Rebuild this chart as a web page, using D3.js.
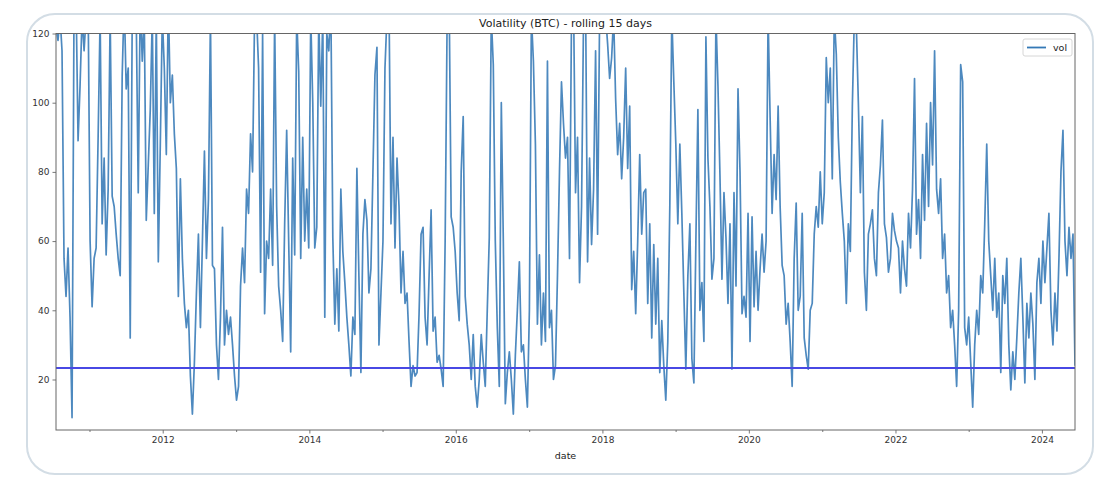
<!DOCTYPE html>
<html>
<head>
<meta charset="utf-8">
<script src="https://cdn.jsdelivr.net/npm/d3@7"></script>
<style>
  html, body { margin: 0; padding: 0; background: #fff; }
  svg { display: block; font-family: "DejaVu Sans", sans-serif; }
</style>
</head>
<body>
<svg id="chart" width="1117" height="486"></svg>
<script>
// ---------------- data ----------------
const title = "Volatility (BTC) - rolling 15 days";
const seriesName = "vol";
const xLabel = "date";
const startDate = "2010-07-18";
const stepDays = 10;
const vol = [
  122,118,125,115,55,44,58,38,9,130,
  130,89,105,125,115,125,130,60,41,55,
  58,90,125,65,84,56,75,125,73,70,
  62,55,50,108,130,104,110,32,125,130,
  125,74,130,112,125,66,82,98,125,68,
  125,54,88,125,110,85,130,100,108,91,
  81,44,78,55,42,35,40,21,10,25,
  45,62,35,60,86,55,72,125,53,52,
  30,20,38,64,30,40,33,38,30,21,
  14,18,47,58,48,75,68,91,80,125,
  125,110,51,120,39,60,55,75,53,125,
  70,47,40,31,65,92,60,28,84,56,
  125,109,55,90,60,75,58,125,100,58,
  64,125,99,125,38,120,115,130,61,36,
  52,34,75,57,48,38,30,21,38,33,
  81,50,22,62,72,66,45,52,80,108,
  116,30,45,60,110,125,130,65,90,58,
  84,70,45,57,42,45,31,18,24,21,
  22,39,62,64,38,30,50,69,34,38,
  25,27,23,18,60,125,130,67,64,57,
  45,37,80,96,44,36,30,20,33,18,
  12,20,33,25,18,40,61,125,111,60,
  35,18,100,60,13,22,28,20,10,27,
  40,54,28,30,20,12,40,125,112,88,
  36,56,30,45,31,112,35,40,20,24,
  50,80,106,94,84,90,55,125,130,74,
  90,48,70,125,130,54,84,59,75,115,
  62,125,130,122,125,117,107,113,125,101,
  85,94,78,90,110,81,99,46,57,39,
  60,85,62,74,75,42,65,32,59,36,
  55,22,37,24,14,31,70,125,106,88,
  65,88,68,45,23,50,65,26,19,60,
  98,40,48,31,119,84,70,49,55,125,
  105,79,49,74,61,42,65,23,74,47,
  104,80,39,44,38,68,31,67,41,57,
  40,52,62,51,60,125,96,68,85,72,
  99,70,53,50,36,42,31,18,55,71,
  40,44,68,32,27,23,40,42,62,70,
  64,80,65,74,113,100,110,78,125,114,
  90,77,68,60,42,65,57,99,125,122,
  100,74,96,51,40,62,65,69,55,50,
  74,82,95,65,61,51,55,68,63,60,
  58,45,60,52,47,68,58,75,107,62,
  72,55,85,66,94,70,100,82,115,75,
  68,78,55,62,45,50,35,40,30,18,
  40,111,106,35,30,38,25,12,30,40,
  33,50,45,65,88,60,50,40,55,38,
  45,22,50,42,55,30,17,28,20,32,
  45,55,38,19,42,32,45,36,20,48,
  55,42,60,48,58,68,40,30,45,34,
  55,80,92,60,50,64,55,62,24
];
const threshold = 23.3;
const yTicks = [20, 40, 60, 80, 100, 120];
const xMajorYears = [2012, 2014, 2016, 2018, 2020, 2022, 2024];
const xMinorYears = [2011, 2013, 2015, 2017, 2019, 2021, 2023];
const yDomain = [5.4, 120];

// ---------------- layout ----------------
const svg = d3.select("#chart");
const L = 56, R = 1075, T = 33.5, B = 430;

const t0 = d3.timeParse("%Y-%m-%d")(startDate);
const data = vol.map((v, i) => ({ date: d3.timeDay.offset(t0, i * stepDays), v }));

const x = d3.scaleTime().domain(d3.extent(data, d => d.date)).range([L, R]);
const y = d3.scaleLinear().domain(yDomain).range([B, T]);

// outer rounded frame
svg.append("rect")
  .attr("x", 27).attr("y", 14).attr("width", 1066).attr("height", 460)
  .attr("rx", 28).attr("ry", 28)
  .attr("fill", "#fff").attr("stroke", "#d3dde5").attr("stroke-width", 2);

svg.append("defs").append("clipPath").attr("id", "clip")
  .append("rect").attr("x", L).attr("y", T).attr("width", R - L).attr("height", B - T);

// series line
const line = d3.line().x(d => x(d.date)).y(d => y(d.v));
svg.append("path")
  .datum(data)
  .attr("clip-path", "url(#clip)")
  .attr("d", line)
  .attr("fill", "none")
  .attr("stroke", "#3479b6")
  .attr("stroke-width", 1.7)
  .attr("stroke-linejoin", "round")
  .attr("stroke-opacity", 0.88);

// threshold line
svg.append("line")
  .attr("x1", L).attr("x2", R)
  .attr("y1", y(threshold)).attr("y2", y(threshold))
  .attr("stroke", "#4848e4").attr("stroke-width", 2);

// axes
const yAxis = d3.axisLeft(y).tickValues(yTicks).tickSize(3.5).tickPadding(3);
const gy = svg.append("g").attr("transform", `translate(${L},0)`).call(yAxis);
const xAxis = d3.axisBottom(x)
  .tickValues(xMajorYears.map(yy => new Date(yy, 0, 1)))
  .tickFormat(d3.timeFormat("%Y")).tickSize(3.5).tickPadding(3);
const gx = svg.append("g").attr("transform", `translate(0,${B})`).call(xAxis);
const xMinor = d3.axisBottom(x)
  .tickValues(xMinorYears.map(yy => new Date(yy, 0, 1)))
  .tickFormat("").tickSize(2);
const gxm = svg.append("g").attr("transform", `translate(0,${B})`).call(xMinor);

[gy, gx, gxm].forEach(g => {
  g.select(".domain").remove();
  g.selectAll("line").attr("stroke", "#555").attr("stroke-width", 0.8);
  g.selectAll("text").attr("fill", "#333").style("font-size", "9px")
    .style("font-family", "'DejaVu Sans', sans-serif");
});

// frame (spines)
svg.append("rect")
  .attr("x", L).attr("y", T).attr("width", R - L).attr("height", B - T)
  .attr("fill", "none").attr("stroke", "#666").attr("stroke-width", 1);

// title and labels
svg.append("text").attr("x", (L + R) / 2).attr("y", 27)
  .attr("text-anchor", "middle").attr("fill", "#222")
  .style("font-size", "11px").text(title);
svg.append("text").attr("x", (L + R) / 2).attr("y", 459)
  .attr("text-anchor", "middle").attr("fill", "#222")
  .style("font-size", "9.5px").text(xLabel);

// legend
const lg = svg.append("g");
lg.append("rect").attr("x", 1023).attr("y", 39).attr("width", 49).attr("height", 17)
  .attr("rx", 2).attr("fill", "#fff").attr("fill-opacity", 0.8)
  .attr("stroke", "#d6d6d6").attr("stroke-width", 1);
lg.append("line").attr("x1", 1027).attr("x2", 1046).attr("y1", 47.5).attr("y2", 47.5)
  .attr("stroke", "#3479b6").attr("stroke-width", 1.8);
lg.append("text").attr("x", 1053).attr("y", 51).attr("fill", "#222")
  .style("font-size", "9.5px").text(seriesName);
</script>
</body>
</html>
